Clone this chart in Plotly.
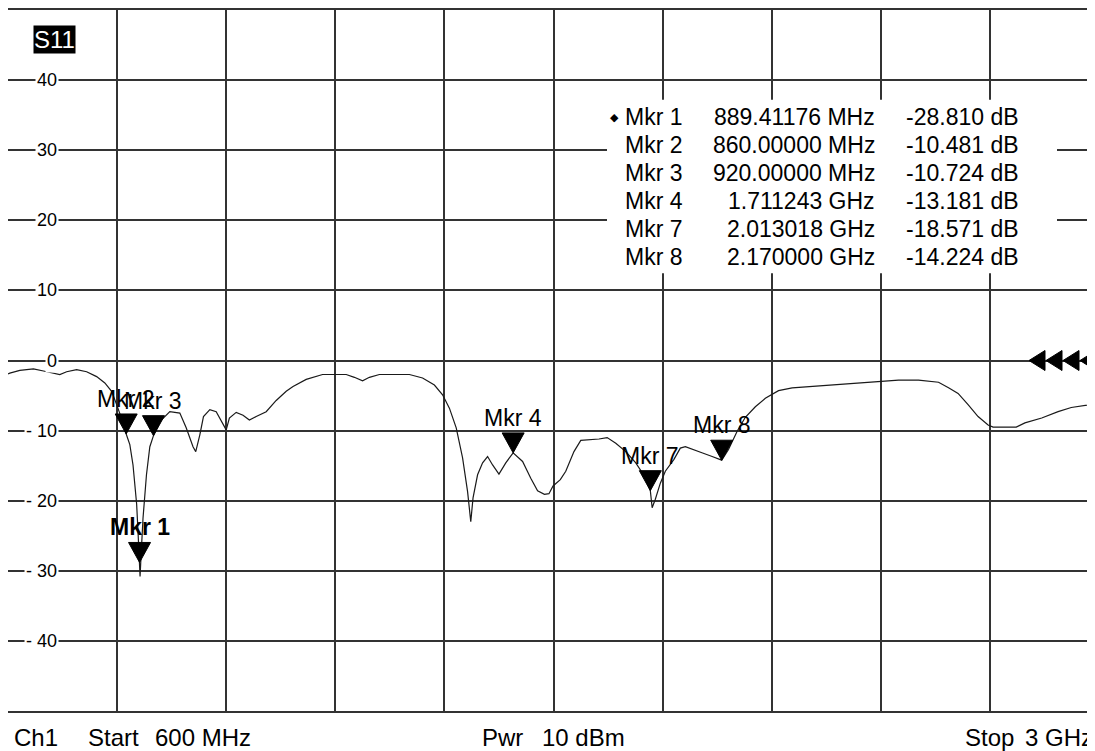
import plotly.graph_objects as go

# ---------------- data ----------------
trace_freq_mhz = [600, 604, 626, 656, 678, 696, 714, 729, 751, 773, 795, 813, 828, 839, 850,
                  860, 868, 875, 879, 883, 886, 888.4, 889.4, 890.5, 893, 897, 904.6, 912, 920,
                  934, 956, 978, 992, 1007, 1013, 1022, 1030, 1044, 1058, 1069, 1080, 1087,
                  1102, 1117, 1131, 1146, 1168, 1190, 1212, 1227, 1256, 1292, 1344, 1362, 1380,
                  1395, 1417, 1483, 1512, 1538, 1556, 1571, 1586, 1600, 1611, 1618, 1623, 1633,
                  1644, 1655, 1666, 1680, 1695, 1711.2, 1732, 1750, 1765, 1780, 1790, 1799, 1815,
                  1827, 1845, 1860, 1885, 1900, 1918, 1937, 1959, 1981, 2003, 2013, 2017, 2024,
                  2035, 2046, 2065, 2079, 2090, 2105, 2128, 2149, 2170, 2185, 2204, 2222, 2244,
                  2266, 2295, 2325, 2368, 2412, 2456, 2500, 2559, 2603, 2647, 2669, 2690, 2712,
                  2734, 2756, 2767, 2818, 2837, 2874, 2910, 2939, 2987, 3000]
trace_s11_db = [-1.9, -1.8, -1.4, -1.2, -1.5, -1.8, -2.0, -1.6, -1.3, -1.6, -2.3, -3.2, -4.4, -6.3, -8.3,
                -10.48, -12.0, -14.9, -17.7, -20.5, -24.4, -27.2, -28.81, -30.8, -27.5, -22.5, -16.3, -12.3, -10.72,
                -8.7, -7.3, -7.5, -9.6, -12.3, -13.0, -10.6, -8.0, -7.0, -7.3, -8.5, -9.9, -8.2,
                -7.4, -7.8, -8.5, -8.0, -7.3, -5.7, -4.4, -3.7, -2.7, -2.0, -2.0, -2.4, -2.9,
                -2.4, -2.0, -2.0, -2.5, -3.5, -4.9, -6.8, -9.6, -13.9, -18.7, -23.0, -19.6, -16.3,
                -14.6, -13.7, -14.9, -16.2, -14.6, -13.18, -14.4, -16.8, -18.6, -19.1, -19.0, -17.9, -17.0,
                -15.8, -13.0, -11.4, -11.3, -11.2, -11.0, -11.8, -13.0, -14.6, -16.8, -18.57, -21.0, -19.8,
                -17.5, -15.8, -14.1, -12.5, -12.3, -12.7, -13.2, -13.7, -14.22, -12.7, -10.1, -8.1, -6.6,
                -5.4, -4.3, -3.9, -3.7, -3.5, -3.2, -3.0, -2.8, -2.8, -3.1, -3.9, -4.7, -6.3,
                -8.0, -9.2, -9.5, -9.5, -8.9, -8.2, -7.3, -6.7, -6.2, -6.1]

marker_names = ["Mkr 1", "Mkr 2", "Mkr 3", "Mkr 4", "Mkr 7", "Mkr 8"]
marker_freq_mhz = [889.41176, 860.00000, 920.00000, 1711.243, 2013.018, 2170.000]
marker_db = [-28.810, -10.481, -10.724, -13.181, -18.571, -14.224]
active_marker = "Mkr 1"

y_tick_values = [40, 30, 20, 10, 0, -10, -20, -30, -40]
ref_level_db = 0
start_mhz, stop_mhz = 600, 3000
power_dbm = 10
channel = "Ch1"
param = "S11"

# ---------------- layout helpers ----------------
# the page body adds an 8 px margin; window coordinates below include it
BODY = 8
WIN_W, WIN_H = 1095, 751
PL, PR, PT, PB = 8, 1095, 8, 711       # plot area in window pixels
DIV_PX = 109.1
x_end = start_mhz + (PR - PL) / DIV_PX * (stop_mhz - start_mhz) / 10

def pxx(px):
    return (px - PL) / (PR - PL)

def pxy(py):
    return (PB - py) / (PB - PT)

FONT = "Liberation Sans, Arial, sans-serif"
GRID = "#333333"

fig = go.Figure()
fig.add_trace(go.Scatter(x=trace_freq_mhz, y=trace_s11_db, mode="lines",
                         line=dict(color="#1a1a1a", width=1.2), hoverinfo="skip"))

shapes = []
annotations = []

# white box behind the marker table (covers grid)
shapes.append(dict(type="rect", xref="paper", yref="paper",
                   x0=pxx(607), x1=pxx(1057), y0=pxy(272), y1=pxy(98),
                   fillcolor="white", line=dict(width=0), layer="above"))

# marker triangles and labels
for name, f, v in zip(marker_names, marker_freq_mhz, marker_db):
    shapes.append(dict(type="path", xref="x", yref="y", xsizemode="pixel", ysizemode="pixel",
                       xanchor=f, yanchor=v, path="M-11,20 L11,20 L0,0 Z",
                       fillcolor="black", line=dict(color="black", width=1), layer="above"))
    annotations.append(dict(x=f, y=v, xref="x", yref="y",
                            text=(f"<b>{name}</b>" if name == active_marker else name),
                            showarrow=False, yshift=35, xanchor="center", yanchor="middle",
                            font=dict(family=FONT, size=23, color="black")))

# reference level arrows
for tip in [-66, -49, -32, -15]:
    shapes.append(dict(type="path", xref="paper", yref="y", xsizemode="pixel", ysizemode="pixel",
                       xanchor=1, yanchor=ref_level_db,
                       path=f"M{tip},0 L{tip+16},10 L{tip+16},-10 Z",
                       fillcolor="black", line=dict(color="black", width=1), layer="above"))

# y labels inside plot
for v in y_tick_values:
    txt = str(v) if v >= 0 else "-\u00a0" + str(abs(v))
    annotations.append(dict(x=0, y=v, xref="paper", yref="y", xshift=51, xanchor="right", yanchor="middle",
                            text=txt, showarrow=False, bgcolor="white", borderpad=1,
                            font=dict(family=FONT, size=18, color="black")))

# S11 label
annotations.append(dict(x=pxx(33), y=pxy(23), xref="paper", yref="paper", xanchor="left", yanchor="top",
                        text=param, showarrow=False, bgcolor="black", borderpad=0,
                        font=dict(family=FONT, size=24, color="white")))

# marker table
row_y = [115.5, 143.5, 171.5, 199.5, 227.5, 255.5]

def fmt_f(f):
    if f < 1000:
        return f"{f:.5f} MHz"
    return f"{f/1000:.6f} GHz"

for i, (name, f, v) in enumerate(zip(marker_names, marker_freq_mhz, marker_db)):
    yy = pxy(row_y[i])
    annotations.append(dict(x=pxx(623), y=yy, xref="paper", yref="paper", xanchor="left", yanchor="middle",
                            text=name, showarrow=False, font=dict(family=FONT, size=23, color="black")))
    annotations.append(dict(x=pxx(877), y=yy, xref="paper", yref="paper", xanchor="right", yanchor="middle",
                            text=fmt_f(f), showarrow=False, font=dict(family=FONT, size=23, color="black")))
    annotations.append(dict(x=pxx(1021), y=yy, xref="paper", yref="paper", xanchor="right", yanchor="middle",
                            text=f"{v:.3f} dB", showarrow=False, font=dict(family=FONT, size=23, color="black")))
    if name == active_marker:
        annotations.append(dict(x=pxx(614), y=yy, xref="paper", yref="paper", xanchor="center", yanchor="middle",
                                text="\u25c6", showarrow=False,
                                font=dict(family="DejaVu Sans", size=11, color="black")))

# bottom status line
bottom = [(channel, 12), ("Start", 86), (f"{start_mhz} MHz", 153), ("Pwr", 480), (f"{power_dbm} dBm", 540),
          ("Stop", 963), (f"{stop_mhz // 1000} GHz", 1023)]
for txt, xpx in bottom:
    annotations.append(dict(x=pxx(xpx), y=pxy(738), xref="paper", yref="paper", xanchor="left", yanchor="middle",
                            text=txt, showarrow=False, font=dict(family=FONT, size=24, color="black")))

fig.update_layout(
    width=WIN_W - BODY, height=WIN_H - BODY, autosize=False,
    margin=dict(l=PL - BODY, r=WIN_W - PR, t=PT - BODY, b=WIN_H - PB, pad=0),
    paper_bgcolor="white", plot_bgcolor="white",
    showlegend=False,
    shapes=shapes, annotations=annotations,
    xaxis=dict(range=[start_mhz, x_end], tick0=start_mhz, dtick=(stop_mhz - start_mhz) / 10,
               showgrid=True, gridcolor=GRID, gridwidth=1.5, zeroline=False,
               showline=True, linecolor=GRID, linewidth=1.5, mirror=True,
               showticklabels=False, ticks=""),
    yaxis=dict(range=[-50, 50], tick0=0, dtick=10,
               showgrid=True, gridcolor=GRID, gridwidth=1.5, zeroline=False,
               showline=True, linecolor=GRID, linewidth=1.5, mirror=False,
               showticklabels=False, ticks=""),
)

fig.write_html("out.html")
